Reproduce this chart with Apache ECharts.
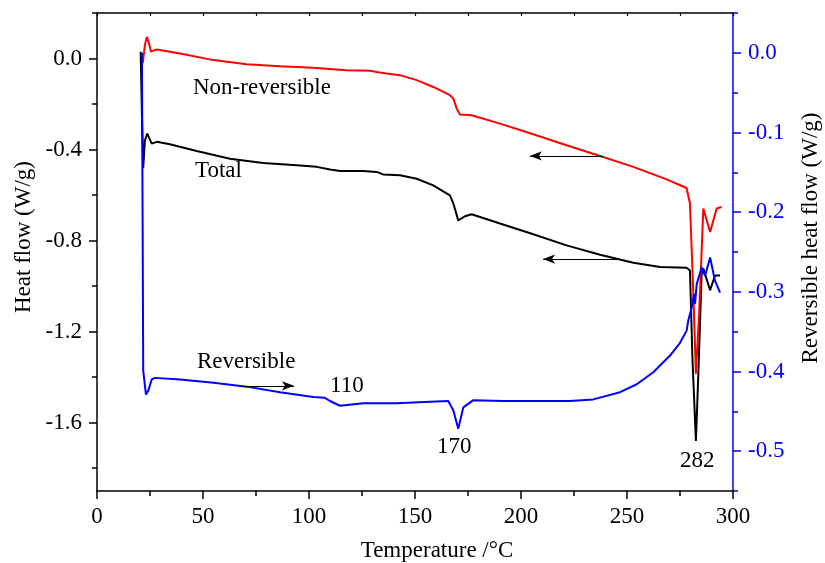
<!DOCTYPE html>
<html><head><meta charset="utf-8">
<script src="https://cdn.jsdelivr.net/npm/echarts@6/dist/echarts.min.js"></script>
<style>html,body{margin:0;padding:0;background:#fff}#c{width:825px;height:563px}</style>
</head><body><div id="c"></div>
<script>
const FONT = '"Liberation Serif", "Times New Roman", Times, serif';

// Non-reversible heat flow (left axis, W/g)
const nonRevT = [21.0, 21.6, 22.6, 23.5, 24.4, 25.5, 28.2, 39.2, 54.9, 70.6, 86.3, 102, 117.8, 128.8, 131.9, 136.6, 142.9, 150.8, 158.6, 166.5, 168.1, 169.7, 171.2, 176.7, 190.1, 205.8, 221.5, 237.3, 253, 268.7, 278.1, 278.9, 279.7, 281.3, 282.5, 284.1, 286, 286.8, 289.2, 292.3, 294.6];
const nonRevV = [0.02, -0.02, 0.06, 0.095, 0.07, 0.03, 0.04, 0.022, -0.007, -0.025, -0.034, -0.041, -0.051, -0.054, -0.059, -0.066, -0.073, -0.095, -0.125, -0.161, -0.176, -0.220, -0.246, -0.249, -0.286, -0.333, -0.381, -0.428, -0.476, -0.531, -0.569, -0.572, -0.637, -1.033, -1.385, -1.106, -0.659, -0.652, -0.762, -0.659, -0.652];

// Total heat flow (left axis, W/g)
const totalT = [20.6, 21.2, 21.8, 22.6, 23.7, 25.8, 28.2, 34.4, 47, 62.7, 78.4, 94.2, 103.6, 109.9, 114.6, 125.6, 131.9, 135, 142.9, 150.8, 158.6, 166.5, 168.1, 170.4, 173.6, 176.7, 190.1, 205.8, 221.5, 237.3, 253, 265.6, 278.1, 278.9, 279.7, 280.9, 282.5, 283.6, 285.2, 286, 289.2, 291.5, 293.9];
const totalV = [0.03, -0.25, -0.48, -0.36, -0.330, -0.374, -0.366, -0.377, -0.406, -0.440, -0.459, -0.469, -0.476, -0.488, -0.494, -0.494, -0.498, -0.509, -0.513, -0.528, -0.557, -0.601, -0.637, -0.711, -0.693, -0.684, -0.725, -0.772, -0.821, -0.862, -0.897, -0.916, -0.919, -0.919, -0.931, -1.326, -1.68, -1.40, -0.945, -0.923, -1.018, -0.953, -0.953];

// Reversible heat flow (right axis, W/g)
const revT = [21.2, 21.5, 21.8, 23.1, 24.2, 25.8, 27.4, 39.2, 55, 70.6, 86.3, 102, 107.5, 109.9, 114.6, 125.6, 141.3, 157.1, 165.7, 168.1, 170.4, 172.8, 177.5, 191.7, 207.5, 223.1, 234.1, 246.7, 254.6, 262.4, 270.3, 275, 278.1, 278.9, 280.5, 281.6, 282.1, 282.9, 284.4, 285.2, 286.8, 289.2, 291.5, 293.9];
const revV = [0.0, -0.2, -0.399, -0.429, -0.424, -0.410, -0.408, -0.410, -0.414, -0.419, -0.426, -0.432, -0.433, -0.437, -0.443, -0.440, -0.440, -0.438, -0.437, -0.449, -0.472, -0.445, -0.436, -0.437, -0.437, -0.437, -0.435, -0.426, -0.416, -0.401, -0.380, -0.364, -0.349, -0.336, -0.320, -0.303, -0.315, -0.290, -0.277, -0.269, -0.280, -0.257, -0.286, -0.301];

// Axis ticks
const leftMajorTicks = [-1.6, -1.2, -0.8, -0.4, 0.0];
const leftMinorTicks = [-1.8, -1.4, -1.0, -0.6, -0.2, 0.2];
const rightMajorTicks = [-0.5, -0.4, -0.3, -0.2, -0.1, 0.0];
const rightMinorTicks = [-0.55, -0.45, -0.35, -0.25, -0.15, -0.05, 0.05];

// Arrows [x1, y1, x2, y2] (tail -> head)
const arrowNonRev = [238.7, -0.428, 204.2, -0.428];
const arrowTotal = [245.8, -0.881, 210.4, -0.881];
const arrowRev = [69.3, -0.418, 92.9, -0.418];

const zip = (a, b) => a.map((v, i) => [v, b[i]]);

const chart = echarts.init(document.getElementById('c'), null, {renderer: 'canvas'});

function arrow(a) {
  return {
    silent: true, animation: false,
    symbol: ['none', 'arrow'], symbolSize: [7, 12],
    lineStyle: {color: '#000', width: 1.2, type: 'solid'},
    label: {show: false},
    data: [[{coord: [a[0], a[1]]}, {coord: [a[2], a[3]]}]]
  };
}

const labelStyle = {fontFamily: FONT, fontSize: 23, color: '#000'};

const option = {
  animation: false,
  backgroundColor: '#fff',
  grid: {left: 97, right: 92, top: 13, bottom: 72, containLabel: false},
  xAxis: [
    {
      type: 'value', position: 'bottom', min: 0, max: 300, interval: 50,
      axisLine: {show: true, onZero: false, lineStyle: {color: '#000', width: 1.5}},
      axisTick: {show: true, inside: false, length: 8, lineStyle: {color: '#000', width: 1.5}},
      minorTick: {show: true, splitNumber: 2, length: 5, lineStyle: {color: '#000', width: 1.5}},
      axisLabel: Object.assign({margin: 14}, labelStyle),
      splitLine: {show: false}
    },
    {
      type: 'value', position: 'top', min: 0, max: 300, interval: 25,
      axisLine: {show: true, onZero: false, lineStyle: {color: '#000', width: 1.5}},
      axisTick: {show: true, inside: true, length: 3, lineStyle: {color: '#000', width: 1.2}},
      axisLabel: {show: false},
      splitLine: {show: false}
    }
  ],
  yAxis: [
    {
      type: 'value', position: 'left', min: -1.9, max: 0.2,
      axisLine: {show: true, onZero: false, lineStyle: {color: '#000', width: 1.5}},
      axisTick: {show: true, length: 8, customValues: leftMajorTicks, lineStyle: {color: '#000', width: 1.5}},
      axisLabel: Object.assign({margin: 15, customValues: leftMajorTicks, formatter: v => v.toFixed(1)}, labelStyle),
      splitLine: {show: false}
    },
    {
      type: 'value', position: 'right', min: -0.55, max: 0.05,
      axisLine: {show: true, onZero: false, lineStyle: {color: '#0000ff', width: 1.5}},
      axisTick: {show: true, length: 8, customValues: rightMajorTicks, lineStyle: {color: '#0000ff', width: 1.5}},
      axisLabel: Object.assign({margin: 15, customValues: rightMajorTicks, formatter: v => v.toFixed(1)}, labelStyle, {color: '#0000ff'}),
      splitLine: {show: false}
    },
    {
      type: 'value', position: 'left', min: -1.9, max: 0.2,
      axisLine: {show: false, onZero: false},
      axisTick: {show: true, length: 5, customValues: leftMinorTicks, lineStyle: {color: '#000', width: 1.5}},
      axisLabel: {show: false},
      splitLine: {show: false}
    },
    {
      type: 'value', position: 'right', min: -0.55, max: 0.05,
      axisLine: {show: false, onZero: false},
      axisTick: {show: true, length: 5, customValues: rightMinorTicks, lineStyle: {color: '#0000ff', width: 1.5}},
      axisLabel: {show: false},
      splitLine: {show: false}
    }
  ],
  series: [
    {
      name: 'Total', type: 'line', xAxisIndex: 0, yAxisIndex: 0,
      data: zip(totalT, totalV), showSymbol: false, symbol: 'none',
      lineStyle: {color: '#000', width: 2}, itemStyle: {color: '#000'},
      markLine: arrow(arrowTotal)
    },
    {
      name: 'Non-reversible', type: 'line', xAxisIndex: 0, yAxisIndex: 0,
      data: zip(nonRevT, nonRevV), showSymbol: false, symbol: 'none',
      lineStyle: {color: '#ff0000', width: 2}, itemStyle: {color: '#ff0000'},
      markLine: arrow(arrowNonRev)
    },
    {
      name: 'Reversible', type: 'line', xAxisIndex: 0, yAxisIndex: 1,
      data: zip(revT, revV), showSymbol: false, symbol: 'none',
      lineStyle: {color: '#0000ff', width: 2}, itemStyle: {color: '#0000ff'},
      markLine: arrow(arrowRev)
    }
  ],
  graphic: [
    {type: 'text', x: 24, y: 237, rotation: Math.PI / 2, style: {text: 'Heat flow (W/g)', font: '23px ' + FONT, fill: '#000', textAlign: 'center', textVerticalAlign: 'middle', align: 'center', verticalAlign: 'middle'}},
    {type: 'text', x: 811, y: 238, rotation: Math.PI / 2, style: {text: 'Reversible heat flow (W/g)', font: '23px ' + FONT, fill: '#000', textAlign: 'center', textVerticalAlign: 'middle', align: 'center', verticalAlign: 'middle'}},
    {type: 'text', x: 437, y: 551, style: {text: 'Temperature /°C', font: '23px ' + FONT, fill: '#000', textAlign: 'center', textVerticalAlign: 'middle', align: 'center', verticalAlign: 'middle'}},
    {type: 'text', x: 193, y: 88, style: {text: 'Non-reversible', font: '23px ' + FONT, fill: '#000', textAlign: 'left', textVerticalAlign: 'middle', align: 'left', verticalAlign: 'middle'}},
    {type: 'text', x: 195, y: 171, style: {text: 'Total', font: '23px ' + FONT, fill: '#000', textAlign: 'left', textVerticalAlign: 'middle', align: 'left', verticalAlign: 'middle'}},
    {type: 'text', x: 197, y: 362, style: {text: 'Reversible', font: '23px ' + FONT, fill: '#000', textAlign: 'left', textVerticalAlign: 'middle', align: 'left', verticalAlign: 'middle'}},
    {type: 'text', x: 330, y: 386, style: {text: '110', font: '23px ' + FONT, fill: '#000', textAlign: 'left', textVerticalAlign: 'middle', align: 'left', verticalAlign: 'middle'}},
    {type: 'text', x: 437, y: 447, style: {text: '170', font: '23px ' + FONT, fill: '#000', textAlign: 'left', textVerticalAlign: 'middle', align: 'left', verticalAlign: 'middle'}},
    {type: 'text', x: 680, y: 461, style: {text: '282', font: '23px ' + FONT, fill: '#000', textAlign: 'left', textVerticalAlign: 'middle', align: 'left', verticalAlign: 'middle'}}
  ]
};
chart.setOption(option);
</script>
</body></html>
